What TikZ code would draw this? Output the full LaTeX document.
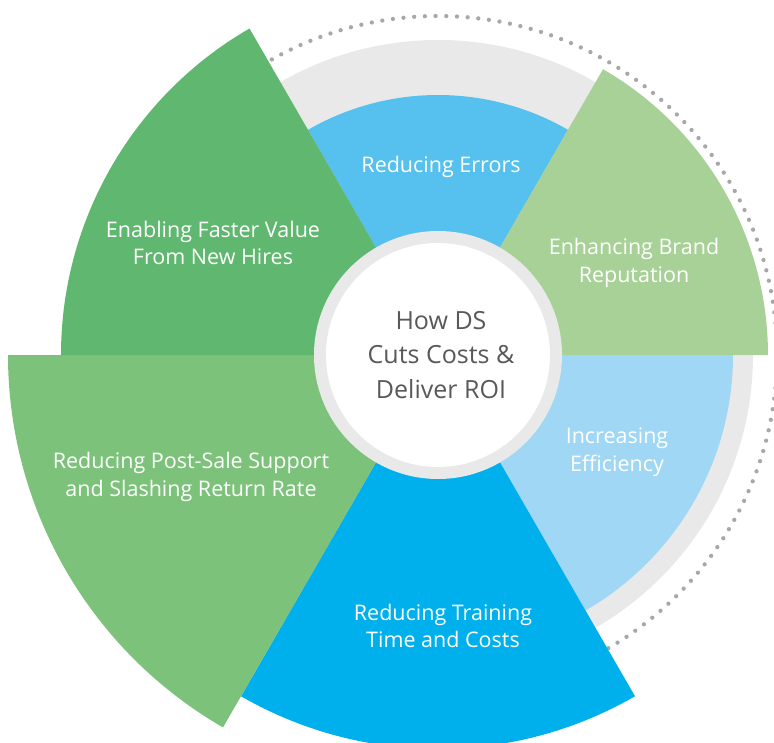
\documentclass[tikz,border=0pt]{standalone}
\usepackage{fontspec}
\setmainfont{Open Sans}
\usetikzlibrary{positioning}

\definecolor{errblue}{HTML}{56C1EE}
\definecolor{brandgreen}{HTML}{A7D196}
\definecolor{effblue}{HTML}{A0D7F4}
\definecolor{trainblue}{HTML}{00B0EC}
\definecolor{salegreen}{HTML}{7DC27A}
\definecolor{hiregreen}{HTML}{60B76F}
\definecolor{ringgray}{HTML}{E9E9E9}
\definecolor{dotgray}{HTML}{A8A8A8}
\definecolor{hubtext}{HTML}{595959}

\tikzset{
	sectortext/.style={text=white, align=center, font=\fontsize{21.5}{27.5}\selectfont},
	hubtext/.style={text=hubtext, align=center, font=\fontsize{25}{34.5}\selectfont}
}

\begin{document}
\begin{tikzpicture}[x=1pt,y=1pt]
		\useasboundingbox (-438,-387) rectangle (336,355);
		
		% dotted outer circle and gray ring
		\draw[dotgray, line width=4.3pt, line cap=round, dash pattern=on 0pt off 10.7pt] (0,0) circle (339);
		\fill[ringgray] (0,0) circle (315);
		
		% sectors
		\fill[errblue] (0,0) -- (60:260) arc[start angle=60, end angle=120, radius=260] -- cycle;
		\fill[brandgreen] (0,0) -- (0:330) arc[start angle=0, end angle=60, radius=330] -- cycle;
		\fill[effblue] (0,0) -- (-60:295) arc[start angle=-60, end angle=0, radius=295] -- cycle;
		\fill[trainblue] (0,0) -- (-120:394) arc[start angle=-120, end angle=-60, radius=394] -- cycle;
		\fill[salegreen] (0,0) -- (180:430) arc[start angle=180, end angle=240, radius=430] -- cycle;
		\fill[hiregreen] (0,0) -- (120:377) arc[start angle=120, end angle=180, radius=377] -- cycle;
		
		% hub
		\fill[ringgray] (0,0) circle (124);
		\fill[white] (0,0) circle (112);
		\node[hubtext] (hub) at (3,0) {How DS\\Cuts Costs \&\\Deliver ROI};
		
		% labels
		\node[sectortext] (errors) at (3,188) {Reducing Errors};
		\node[sectortext] (brand) at (196,92) {Enhancing Brand\\Reputation};
		\node[sectortext] (efficiency) at (179,-97) {Increasing\\Efficiency};
		\node[sectortext] (training) at (5,-271) {Reducing Training\\Time and Costs};
		\node[sectortext] (postsale) at (-247,-122) {Reducing Post-Sale Support\\and Slashing Return Rate};
		\node[sectortext] (hires) at (-225,112) {Enabling Faster Value\\From New Hires};
		
	\end{tikzpicture}
\end{document}
